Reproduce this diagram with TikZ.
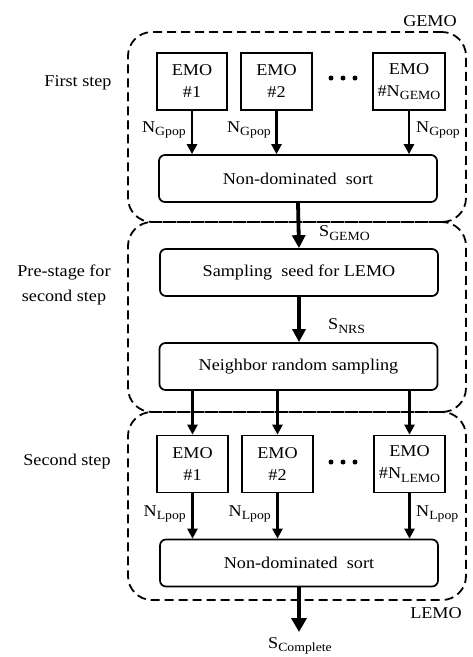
\documentclass[tikz,border=0pt]{standalone}
\usepackage{fontspec}
\setmainfont{Liberation Serif}[FakeStretch=1.1]
\usetikzlibrary{arrows.meta}
\newcommand\sbs[1]{\raisebox{-0.22em}{\fontsize{12.5}{12}\selectfont #1}}
\begin{document}
\begin{tikzpicture}[x=1pt,y=-1pt,
  every node/.style={font=\fontsize{16.5}{22}\selectfont, inner sep=0pt},
  emo/.style={draw, line width=1.7pt, align=center, minimum height=57pt},
  proc/.style={draw, line width=1.7pt, rounded corners=6pt, minimum width=278pt, minimum height=47pt},
  dashbox/.style={draw, line width=1.8pt, dash pattern=on 9pt off 5pt, rounded corners=24pt, minimum width=338pt},
  arrA/.style={line width=2.8pt, -{Triangle[length=10pt,width=10pt]}},
  arrB/.style={line width=3.8pt, -{Triangle[length=13pt,width=13pt]}},
  arrC/.style={line width=4.6pt, -{Triangle[length=14pt,width=15pt]}},
  dotc/.style={fill, circle, minimum size=5pt}
]
\useasboundingbox (0,0) rectangle (472,657);
% dashed groups
\node[dashbox, minimum height=190pt] (G) at (297,127) {};
\node[dashbox, minimum height=190pt] (P) at (297,317) {};
\node[dashbox, minimum height=188pt] (L) at (297,506) {};
\node (Gt) at (430,21) {GEMO};
\node (Lt) at (436,613) {LEMO};
% side labels
\node (s1) at (78,83) {First step};
\node[align=center, font=\fontsize{16.5}{25}\selectfont] (s2) at (64,285) {Pre-stage for\\second step};
\node (s3) at (67,462) {Second step};
% first step
\node[emo, minimum width=70pt] (G1) at (192,81.5) {EMO\\\#1};
\node[emo, minimum width=71pt] (G2) at (276.5,81.5) {EMO\\\#2};
\node[emo, minimum width=72pt] (GN) at (409,81.5) {EMO\\\#N\sbs{GEMO}};
\node[dotc] (Ga) at (331,78) {};
\node[dotc] (Gb) at (343,78) {};
\node[dotc] (Gc) at (355,78) {};
\node[proc] (S1) at (298,178.5) {Non-dominated\ \ sort};
\draw[arrA] (G1.south) -- (G1.south |- S1.north);
\draw[arrA] (G2.south) -- (G2.south |- S1.north);
\draw[arrA] (GN.south) -- (GN.south |- S1.north);
\node[anchor=east] (n1) at (186,130) {N\sbs{Gpop}};
\node[anchor=east] (n2) at (271,130) {N\sbs{Gpop}};
\node[anchor=west] (n3) at (416,130) {N\sbs{Gpop}};
% pre-stage
\node[proc] (SS) at (299,272.5) {Sampling\ \ seed for LEMO};
\node[proc] (NR) at (298.5,366.5) {Neighbor random sampling};
\draw[arrB] (S1.south) -- (SS.north);
\node[anchor=west] (sg) at (319,233) {S\sbs{GEMO}};
\draw[arrB] (SS.south) -- (SS.south |- NR.north);
\node[anchor=west] (sn) at (328,326) {S\sbs{NRS}};
% second step
\node[emo, minimum width=71pt] (L1) at (192.5,464) {EMO\\\#1};
\node[emo, minimum width=71pt] (L2) at (277.5,464) {EMO\\\#2};
\node[emo, minimum width=71pt] (LN) at (409.5,464) {EMO\\\#N\sbs{LEMO}};
\node[dotc] (La) at (331,462) {};
\node[dotc] (Lb) at (343,462) {};
\node[dotc] (Lc) at (355,462) {};
\draw[arrA] (NR.south -| L1.north) -- (L1.north);
\draw[arrA] (NR.south -| L2.north) -- (L2.north);
\draw[arrA] (NR.south -| LN.north) -- (LN.north);
\node[proc] (S2) at (299,563) {Non-dominated\ \ sort};
\draw[arrA] (L1.south) -- (L1.south |- S2.north);
\draw[arrA] (L2.south) -- (L2.south |- S2.north);
\draw[arrA] (LN.south) -- (LN.south |- S2.north);
\node[anchor=east] (m1) at (186,514) {N\sbs{Lpop}};
\node[anchor=east] (m2) at (271,514) {N\sbs{Lpop}};
\node[anchor=west] (m3) at (416,514) {N\sbs{Lpop}};
\coordinate (end) at (299,632);
\draw[arrC] (S2.south) -- (end);
\node (sc) at (300,646) {S\sbs{Complete}};
\end{tikzpicture}
\end{document}
